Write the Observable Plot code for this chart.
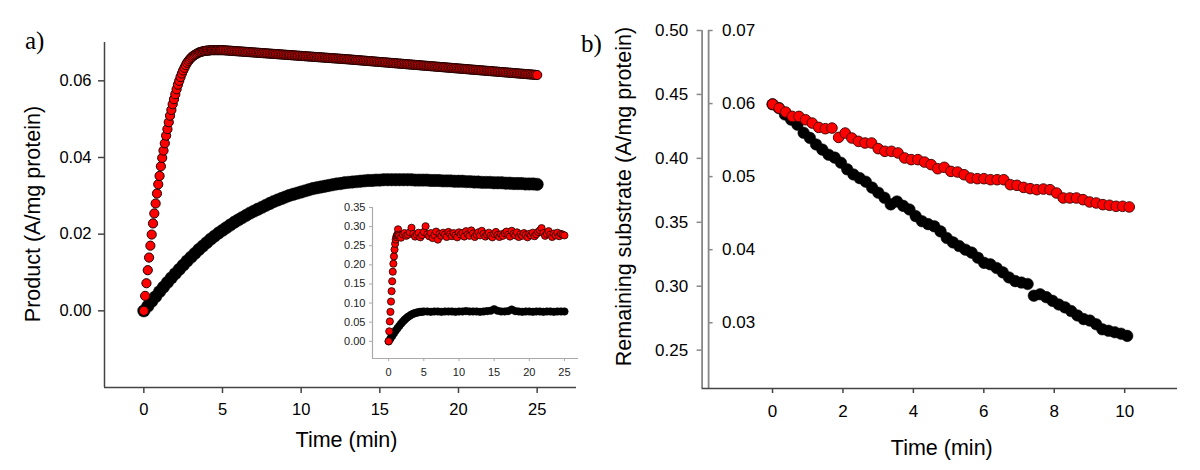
<!DOCTYPE html>
<html>
<head>
<meta charset="utf-8">
<script src="https://cdn.jsdelivr.net/npm/d3@7"></script>
<script src="https://cdn.jsdelivr.net/npm/@observablehq/plot@0.6"></script>
<style>
html,body{margin:0;padding:0;background:#fff;}
#wrap{position:relative;width:1200px;height:470px;overflow:hidden;background:#fff;}
.layer{position:absolute;}
.tag{position:absolute;font-family:"Liberation Serif","Times New Roman",serif;font-size:25px;line-height:25px;color:#000;}
</style>
</head>
<body>
<div id="wrap"></div>
<script>
// ---------- Panel a (main): product vs time ----------
const aXTicks = [0, 5, 10, 15, 20, 25];
const aYTicks = [0.00, 0.02, 0.04, 0.06];
const aXLabel = "Time (min)";
const aYLabel = "Product (A/mg protein)";
// red series, 5 s sampling for first 5 min
const aRedEarlyStart = 0, aRedEarlyStep = 5 / 60;
const aRedEarly = [0, .0039, .0072, .0106, .0139, .0170, .0199, .0228, .0254, .0280,
  .0306, .0330, .0352, .0377, .0399, .0418, .0437, .0457, .0474, .0492,
  .0509, .0524, .0539, .0552, .0565, .0578, .0590, .0600, .0610, .0619,
  .0627, .0634, .0641, .0647, .0652, .0656, .0660, .0663, .0666, .0668,
  .0670, .0672, .0674, .0675, .0676, .0677, .0678, .0678, .0679, .0679,
  .0679, .0680, .0680, .0680, .0680, .0680, .0680, .0680, .0680, .0680, .0680];
// red series, after 5 min (6 s sampling)
const aRedLateStart = 5.1, aRedLateStep = 0.1;
const aRedLate = [
  .06797, .06794, .06791, .06788, .06785, .06782, .06779, .06776, .06773, .06770,
  .06767, .06764, .06761, .06758, .06755, .06752, .06749, .06746, .06743, .06740,
  .06737, .06734, .06731, .06728, .06725, .06722, .06719, .06716, .06713, .06710,
  .06707, .06704, .06701, .06698, .06695, .06692, .06689, .06686, .06683, .06680,
  .06677, .06674, .06671, .06668, .06665, .06662, .06659, .06656, .06653, .06650,
  .06647, .06644, .06641, .06638, .06635, .06632, .06629, .06626, .06623, .06620,
  .06617, .06614, .06611, .06608, .06605, .06602, .06599, .06596, .06593, .06590,
  .06587, .06584, .06581, .06578, .06575, .06572, .06569, .06566, .06563, .06560,
  .06557, .06553, .06550, .06546, .06543, .06540, .06536, .06533, .06529, .06526,
  .06523, .06519, .06516, .06513, .06509, .06506, .06502, .06499, .06495, .06492,
  .06489, .06485, .06482, .06479, .06475, .06472, .06468, .06465, .06461, .06458,
  .06455, .06451, .06448, .06445, .06441, .06438, .06434, .06431, .06427, .06424,
  .06421, .06417, .06414, .06411, .06407, .06404, .06400, .06397, .06393, .06390,
  .06387, .06383, .06380, .06377, .06373, .06370, .06366, .06363, .06359, .06356,
  .06353, .06349, .06346, .06343, .06339, .06336, .06332, .06329, .06325, .06322,
  .06319, .06315, .06312, .06309, .06305, .06302, .06298, .06295, .06291, .06288,
  .06285, .06281, .06278, .06275, .06271, .06268, .06264, .06261, .06257, .06254,
  .06251, .06247, .06244, .06241, .06237, .06234, .06230, .06227, .06223, .06220,
  .06217, .06213, .06210, .06207, .06203, .06200, .06196, .06193, .06189, .06186,
  .06183, .06179, .06176, .06173, .06169, .06166, .06162, .06159, .06155, .06152];
// black series
const aBlackStart = 0, aBlackStep = 0.25;
const aBlack = [0, .0012, .0025, .0037, .0050, .0062, .0074, .0086, .0097, .0108,
  .0119, .0130, .0140, .0150, .0160, .0169, .0178, .0187, .0195, .0203,
  .0210, .0217, .0224, .0231, .0237, .0243, .0249, .0255, .0260, .0265,
  .0270, .0275, .0280, .0285, .0289, .0293, .0297, .0301, .0304, .0307,
  .0310, .0313, .0316, .0319, .0321, .0323, .0325, .0327, .0329, .0331,
  .0332, .0334, .0335, .0336, .0337, .0338, .0339, .0340, .0340, .0341,
  .0341, .0342, .0342, .0342, .0342, .0342, .0342, .0342, .0342, .0341,
  .0341, .0341, .0341, .0340, .0340, .0340, .0339, .0339, .0339, .0338,
  .0338, .0338, .0337, .0337, .0336, .0336, .0335, .0335, .0335, .0334,
  .0334, .0334, .0333, .0333, .0332, .0332, .0332, .0331, .0331, .0331, .0330];

// ---------- Panel a inset ----------
const inXTicks = [0, 5, 10, 15, 20, 25];
const inYTicks = [0.00, 0.05, 0.10, 0.15, 0.20, 0.25, 0.30, 0.35];
const inRedEarlyStart = 0, inRedEarlyStep = 5 / 60;
const inRedEarly = [0, .026, .052, .077, .104, .131, .157, .182, .203, .222,
  .240, .255, .266, .273, .277, .280, .293, .279, .276];
const inRedLateStart = 1.75, inRedLateStep = 0.25;
const inRedLate = [.271, .280, .283, .276, .279, .285, .297, .281, .274, .279,
  .284, .272, .278, .286, .301, .280, .275, .283, .270, .278,
  .287, .266, .281, .276, .284, .279, .273, .286, .280, .275,
  .283, .277, .272, .285, .279, .283, .274, .288, .280, .276,
  .290, .282, .273, .279, .285, .277, .289, .281, .274, .279,
  .284, .276, .272, .281, .286, .278, .273, .280, .276, .283,
  .287, .279, .274, .289, .281, .277, .285, .273, .280, .276,
  .283, .278, .272, .281, .277, .284, .275, .280, .286, .290,
  .296, .283, .276, .281, .288, .279, .273, .282, .277, .284,
  .275, .281, .279, .277];
const inBlackEarlyStart = 0, inBlackEarlyStep = 0.25;
const inBlackEarly = [0, .007, .014, .021, .028, .034, .040, .046, .051, .056,
  .060, .064, .067, .070, .072, .074, .075, .076, .077, .077, .078];
const inBlackLateStart = 5.5, inBlackLateStep = 0.5;
const inBlackLate = [.078, .077, .078, .078, .077, .078, .078, .078, .077, .078,
  .078, .079, .078, .078, .078, .077, .078, .079, .080, .084,
  .080, .078, .078, .079, .083, .079, .078, .077, .078, .078,
  .077, .078, .078, .077, .078, .078, .077, .078, .078, .078];

// ---------- Panel b: remaining substrate ----------
const bXTicks = [0, 2, 4, 6, 8, 10];
const bLeftTicks = [0.25, 0.30, 0.35, 0.40, 0.45, 0.50];
const bRightTicks = [0.03, 0.04, 0.05, 0.06, 0.07];
const bXLabel = "Time (min)";
const bYLabel = "Remaining substrate (A/mg protein)";
// red series (left axis)
const bRedStart = 0, bRedStep = 0.1876;
const bRed = [.4424, .4393, .4362, .4328, .4328, .4302, .4276, .4242, .4232, .4237,
  .4164, .4198, .4159, .4133, .4120, .4120, .4076, .4055, .4055, .4042,
  .4003, .3990, .3990, .3971, .3951, .3919, .3930, .3898, .3893, .3872,
  .3846, .3841, .3841, .3833, .3833, .3833, .3794, .3789, .3773, .3763,
  .3755, .3760, .3755, .3729, .3690, .3690, .3690, .3677, .3659, .3651,
  .3638, .3633, .3625, .3625, .3620];
// black series (right axis)
const bBlackStart = 0, bBlackStep = 0.1767;
const bBlack = [.0599, .0594, .0585, .0578, .0571, .0560, .0553, .0544, .0537, .0530,
  .0526, .0519, .0510, .0503, .0498, .0493, .0485, .0478, .0471, .0462,
  .0466, .0460, .0455, .0446, .0439, .0435, .0432, .0425, .0416, .0410,
  .0405, .0400, .0396, .0389, .0382, .0380, .0375, .0369, .0362, .0357,
  .0355, .0353, .0337, .0339, .0335, .0330, .0325, .0321, .0316, .0310,
  .0305, .0303, .0298, .0291, .0289, .0287, .0285, .0282];

// ---------- build tables ----------
const series = (start, step, values) => values.map((v, i) => ({t: start + i * step, v}));
const aRedData = series(aRedEarlyStart, aRedEarlyStep, aRedEarly).concat(series(aRedLateStart, aRedLateStep, aRedLate));
const aBlackData = series(aBlackStart, aBlackStep, aBlack);
const inRedData = series(inRedEarlyStart, inRedEarlyStep, inRedEarly).concat(series(inRedLateStart, inRedLateStep, inRedLate));
const inBlackData = series(inBlackEarlyStart, inBlackEarlyStep, inBlackEarly).concat(series(inBlackLateStart, inBlackLateStep, inBlackLate));
const bRedData = series(bRedStart, bRedStep, bRed);
const bBlackData = series(bBlackStart, bBlackStep, bBlack);

const FONT = '"Liberation Sans", Arial, Helvetica, sans-serif';
const wrap = document.getElementById("wrap");
function place(node, left, top) {
  node.classList.add("layer");
  node.style.left = left + "px";
  node.style.top = top + "px";
  wrap.appendChild(node);
}

// Panel a
const plotA = Plot.plot({
  width: 600, height: 470,
  marginLeft: 104, marginRight: 24, marginTop: 42, marginBottom: 83,
  style: {fontFamily: FONT, fontSize: "16.5px", color: "#000", background: "transparent", overflow: "visible"},
  x: {domain: [-2.5, 27.5]},
  y: {domain: [-0.02, 0.07]},
  marks: [
    Plot.ruleX([-2.5], {stroke: "#444", strokeWidth: 1.5}),
    Plot.ruleY([-0.02], {stroke: "#444", strokeWidth: 1.5}),
    Plot.axisY(aYTicks, {anchor: "left", tickSize: 6, tickPadding: 7, tickFormat: d3.format(".2f"), stroke: "#444", strokeWidth: 1.5, fill: "#000", label: null}),
    Plot.axisX(aXTicks, {anchor: "bottom", tickSize: 6, tickPadding: 10, tickFormat: d3.format("d"), stroke: "#444", strokeWidth: 1.5, fill: "#000", label: null}),
    Plot.dot(aBlackData, {x: "t", y: "v", r: 6.2, fill: "#000", stroke: "#000", strokeWidth: 0.5}),
    Plot.dot(aRedData, {x: "t", y: "v", r: 4.6, fill: "#ff0000", stroke: "#1a0000", strokeWidth: 1}),
    Plot.text([aYLabel], {text: d => d, frameAnchor: "left", textAnchor: "middle", lineAnchor: "middle", rotate: -90, dx: -71, dy: -1, fontSize: 21.5, fill: "#000"}),
    Plot.text([aXLabel], {text: d => d, frameAnchor: "bottom", textAnchor: "middle", lineAnchor: "middle", dx: 6, dy: 53, fontSize: 21.5, fill: "#000"})
  ]
});
place(plotA, 0, 0);

// Inset
const plotIn = Plot.plot({
  width: 250, height: 200,
  marginLeft: 32, marginRight: 12, marginTop: 17, marginBottom: 32,
  style: {fontFamily: FONT, fontSize: "11px", color: "#000", background: "transparent", overflow: "visible"},
  x: {domain: [-2.3, 27]},
  y: {domain: [-0.045, 0.35]},
  marks: [
    Plot.ruleX([-2.3], {stroke: "#aaa", strokeWidth: 1.2}),
    Plot.ruleY([-0.045], {stroke: "#aaa", strokeWidth: 1.2}),
    Plot.axisY(inYTicks, {anchor: "left", tickSize: 3, tickPadding: 4, tickFormat: d3.format(".2f"), stroke: "#aaa", fill: "#222", label: null}),
    Plot.axisX(inXTicks, {anchor: "bottom", tickSize: 3, tickPadding: 7, tickFormat: d3.format("d"), stroke: "#aaa", fill: "#222", label: null}),
    Plot.dot(inBlackData, {x: "t", y: "v", r: 3.8, fill: "#000", stroke: "#000", strokeWidth: 0.5}),
    Plot.dot(inRedData, {x: "t", y: "v", r: 3.6, fill: "#ff0000", stroke: "#1a0000", strokeWidth: 0.8})
  ]
});
place(plotIn, 340, 190);

// Panel b, black series on right-hand axis (drawn beneath)
const plotB2 = Plot.plot({
  width: 620, height: 470,
  marginLeft: 121.6, marginRight: 23, marginTop: 30, marginBottom: 82,
  style: {fontFamily: FONT, fontSize: "17px", color: "#000", background: "transparent", overflow: "visible"},
  x: {domain: [-2, 11.5], axis: null},
  y: {domain: [0.021, 0.07]},
  marks: [
    Plot.ruleX([-2], {dx: 6.5, stroke: "#888", strokeWidth: 1.8}),
    Plot.axisY(bRightTicks, {anchor: "left", tickSize: 4.5, dx: 11, tickFormat: () => "", stroke: "#888", strokeWidth: 1.5, label: null}),
    Plot.text(bRightTicks, {y: d => d, text: d => d.toFixed(2), frameAnchor: "left", dx: 20, textAnchor: "start", fill: "#000"}),
    Plot.dot(bBlackData, {x: "t", y: "v", r: 5.8, fill: "#000", stroke: "#000", strokeWidth: 0.5})
  ]
});
place(plotB2, 580, 0);

// Panel b, red series on left-hand axis (drawn on top)
const plotB = Plot.plot({
  width: 620, height: 470,
  marginLeft: 121.6, marginRight: 23, marginTop: 30, marginBottom: 82,
  style: {fontFamily: FONT, fontSize: "17px", color: "#000", background: "transparent", overflow: "visible"},
  x: {domain: [-2, 11.5]},
  y: {domain: [0.22, 0.50]},
  marks: [
    Plot.ruleX([-2], {stroke: "#888", strokeWidth: 1.8}),
    Plot.ruleY([0.22], {stroke: "#444", strokeWidth: 1.5}),
    Plot.axisY(bLeftTicks, {anchor: "left", tickSize: 5, tickPadding: 9, tickFormat: d3.format(".2f"), stroke: "#888", strokeWidth: 1.5, fill: "#000", label: null}),
    Plot.axisX(bXTicks, {anchor: "bottom", tickSize: 5, tickPadding: 11, tickFormat: d3.format("d"), stroke: "#444", strokeWidth: 1.5, fill: "#000", label: null}),
    Plot.dot(bRedData, {x: "t", y: "v", r: 5.3, fill: "#ff0000", stroke: "#3a0000", strokeWidth: 0.9}),
    Plot.text([bYLabel], {text: d => d, frameAnchor: "left", textAnchor: "middle", lineAnchor: "middle", rotate: -90, dx: -77.6, dy: -13, fontSize: 21.5, fill: "#000"}),
    Plot.text([bXLabel], {text: d => d, frameAnchor: "bottom", textAnchor: "middle", lineAnchor: "middle", dx: 2, dy: 60, fontSize: 21.5, fill: "#000"})
  ]
});
place(plotB, 580, 0);

// panel tags
const tagA = document.createElement("div");
tagA.className = "tag"; tagA.textContent = "a)";
tagA.style.left = "25px"; tagA.style.top = "28px";
wrap.appendChild(tagA);
const tagB = document.createElement("div");
tagB.className = "tag"; tagB.textContent = "b)";
tagB.style.left = "581px"; tagB.style.top = "31px";
wrap.appendChild(tagB);
</script>
</body>
</html>
